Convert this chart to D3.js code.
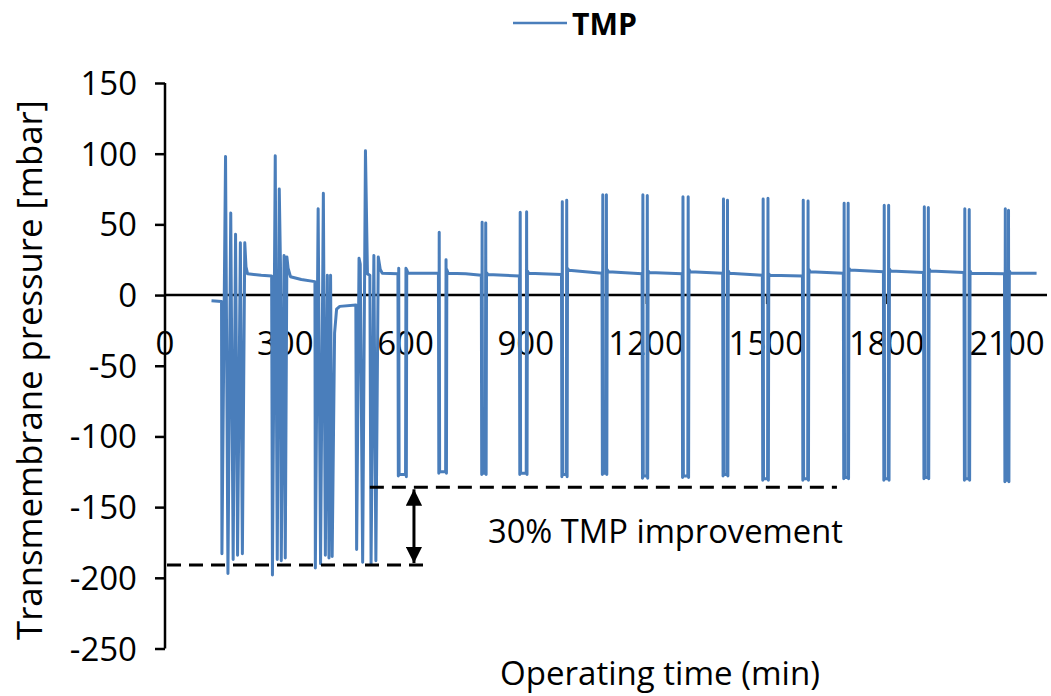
<!DOCTYPE html>
<html>
<head>
<meta charset="utf-8">
<script src="https://cdn.jsdelivr.net/npm/d3@7"></script>
<style>
  body { margin: 0; background: #fff; }
  text { font-family: "Open Sans", sans-serif; fill: #000; }
</style>
</head>
<body>
<svg id="chart" width="1051" height="696"></svg>
<script>
// operating time (min) and transmembrane pressure (mbar)
var minutes = [
  116, 141,
  142, 151, 157, 164, 170, 176, 181, 188, 193, 199, 202, 206, 240, 266,
  268, 275, 280, 285, 288, 290, 297, 300, 304, 307, 313, 340, 374,
  375, 382, 388, 395, 400, 405, 409, 413, 417, 423, 428, 436, 476,
  478, 484, 487, 493, 500, 505, 511, 514, 521, 526, 532, 537, 542, 581,
  582, 583, 584, 600, 601, 602, 603, 606, 682,
  683, 684, 685, 700, 701, 702, 703, 706, 750, 789,
  790, 791, 792, 799, 800, 801, 802, 805, 884,
  885, 886, 887, 901, 902, 903, 904, 907, 989,
  990, 991, 992, 1001, 1002, 1003, 1004, 1007, 1090,
  1091, 1092, 1093, 1100, 1101, 1102, 1103, 1106, 1190,
  1191, 1192, 1193, 1202, 1203, 1204, 1205, 1208, 1290,
  1291, 1292, 1293, 1304, 1305, 1306, 1307, 1310, 1391,
  1392, 1393, 1394, 1402, 1403, 1404, 1405, 1408, 1490,
  1491, 1492, 1493, 1503, 1504, 1505, 1506, 1509, 1590,
  1591, 1592, 1593, 1603, 1604, 1605, 1606, 1609, 1692,
  1693, 1694, 1695, 1703, 1704, 1705, 1706, 1709, 1792,
  1793, 1794, 1795, 1804, 1805, 1806, 1807, 1810, 1892,
  1893, 1894, 1895, 1903, 1904, 1905, 1906, 1909, 1993,
  1994, 1995, 1996, 2005, 2006, 2007, 2008, 2011, 2094,
  2095, 2096, 2097, 2103, 2104, 2105, 2106, 2109, 2174
];
var tmp = [
  -4, -4.5,
  -183, 98, -197, 58, -187, 43, -184, 37, -183, 37, 20, 15, 14, 13.4,
  -198, 98.5, -187, 75, 22, -188, 28, -186, 27, 19, 13, 11, 9.5,
  -193, 61, -190, 72, -184, 14, -186, 14, -185, -27, -10, -8, -7,
  -180, 26, 22, -189, 102, 15, 14, -190, 28, -188, 27, 18, 15.5, 15,
  -128, 19, -127, -127, 19, -128.5, 18, 15.5, 15.5,
  -126, 44.5, -125, -125, 25, -126, 18, 15.5, 15, 14,
  -127, 51.5, -126, -126, 51, -127, 16, 14.5, 13.5,
  -127, 58.5, -126, -126, 59, -127, 17, 15.5, 14.5,
  -128.5, 66, -127, -127, 67, -128.5, 19, 17.5, 15.5,
  -127, 71, -126, -126, 71, -127, 18, 16.5, 15,
  -129.5, 71, -128, -128, 70.5, -129.5, 17, 16, 15,
  -129, 69.5, -128, -128, 69.5, -129, 18, 16.5, 15.5,
  -128, 68, -127, -127, 67, -128, 17, 15.5, 14,
  -131, 68, -130, -130, 68.5, -131, 15, 14, 13.5,
  -131, 67, -130, -130, 66.5, -131, 18, 16.5, 15.5,
  -130, 65, -129, -129, 65, -130, 19, 17.7, 16.5,
  -131, 63.5, -130, -130, 63.5, -131, 18.5, 17, 16,
  -130, 62.5, -129, -129, 62, -130, 18.5, 17, 16,
  -131, 61, -130, -130, 60.5, -131, 17, 15.5, 15,
  -132, 61, -131, -131, 60, -132, 17, 15.5, 15.5
];

var xTicks = [0, 300, 600, 900, 1200, 1500, 1800, 2100];
var yTicks = [150, 100, 50, 0, -50, -100, -150, -200, -250];

// the two reference levels of the annotation
var beforeSpan = [5, 648], beforeLevel = -191;
var afterSpan = [511, 1676], afterLevel = -136;
var arrowAt = 621;

var blue = '#4a7ebb';
var svg = d3.select('#chart');

var x = d3.scaleLinear().domain([0, 2200]).range([165, 1047]);
var y = d3.scaleLinear().domain([-250, 150]).range([648.5, 83]);

function fit(sel, target) {
    var w = sel.node().getComputedTextLength();
    var fs = parseFloat(sel.attr('font-size'));
    sel.attr('font-size', fs * target / w);
}

// y axis
var yAxis = svg.append('g')
    .attr('transform', 'translate(' + x(0) + ',0)')
    .call(d3.axisLeft(y).tickValues(yTicks).tickSize(10).tickFormat(''));
yAxis.select('.domain').attr('stroke', '#000').attr('stroke-width', 2.5).attr('d', 'M0,' + y(150) + 'V' + y(-250));
yAxis.selectAll('.tick line').attr('stroke', '#000').attr('stroke-width', 2.5);

svg.append('g').selectAll('text')
    .data(yTicks).enter().append('text')
    .attr('x', 137)
    .attr('y', function(d) { return y(d) + 12; })
    .attr('text-anchor', 'end')
    .attr('font-size', 33)
    .text(function(d) { return d; });

// x axis on the zero line
var xAxis = svg.append('g')
    .attr('transform', 'translate(0,' + y(0) + ')')
    .call(d3.axisBottom(x).tickValues(xTicks.slice(1)).tickSize(9).tickFormat(''));
xAxis.select('.domain').attr('stroke', '#000').attr('stroke-width', 2.5).attr('d', 'M' + x(0) + ',0H' + x(2200));
xAxis.selectAll('.tick line').attr('stroke', '#000').attr('stroke-width', 2);

svg.append('g').selectAll('text')
    .data(xTicks).enter().append('text')
    .attr('x', function(d) { return x(d); })
    .attr('y', 355)
    .attr('text-anchor', 'middle')
    .attr('font-size', 33)
    .text(function(d) { return d; });

// TMP series
var line = d3.line()
    .x(function(d) { return x(d); })
    .y(function(d, i) { return y(tmp[i]); });

svg.append('path')
    .datum(minutes)
    .attr('d', line)
    .attr('fill', 'none')
    .attr('stroke', blue)
    .attr('stroke-width', 3)
    .attr('stroke-linejoin', 'round');

// annotation: dashed levels and double arrow
svg.append('line')
    .attr('x1', x(beforeSpan[0])).attr('x2', x(beforeSpan[1]))
    .attr('y1', y(beforeLevel)).attr('y2', y(beforeLevel))
    .attr('stroke', '#000').attr('stroke-width', 3).attr('stroke-dasharray', '14,8');
svg.append('line')
    .attr('x1', x(afterSpan[0])).attr('x2', x(afterSpan[1]))
    .attr('y1', y(afterLevel)).attr('y2', y(afterLevel))
    .attr('stroke', '#000').attr('stroke-width', 3).attr('stroke-dasharray', '14,8');

var defs = svg.append('defs');
defs.append('marker')
    .attr('id', 'head')
    .attr('viewBox', '0 0 10 10')
    .attr('refX', 10).attr('refY', 5)
    .attr('markerWidth', 5.5).attr('markerHeight', 5.5)
    .attr('markerUnits', 'strokeWidth')
    .attr('orient', 'auto-start-reverse')
    .append('path').attr('d', 'M0,0L10,5L0,10Z').attr('fill', '#000');

svg.append('line')
    .attr('x1', x(arrowAt)).attr('x2', x(arrowAt))
    .attr('y1', y(afterLevel) + 2).attr('y2', y(beforeLevel) - 2)
    .attr('stroke', '#000').attr('stroke-width', 3)
    .attr('marker-start', 'url(#head)')
    .attr('marker-end', 'url(#head)');

var note = svg.append('text')
    .attr('x', 488).attr('y', 543)
    .attr('font-size', 30)
    .text('30% TMP improvement');
fit(note, 355);

// axis titles
var yTitle = svg.append('text')
    .attr('transform', 'translate(42,370) rotate(-90)')
    .attr('text-anchor', 'middle')
    .attr('font-size', 32)
    .text('Transmembrane pressure [mbar]');
fit(yTitle, 540);

var xTitle = svg.append('text')
    .attr('x', 660).attr('y', 685)
    .attr('text-anchor', 'middle')
    .attr('font-size', 32)
    .text('Operating time (min)');
fit(xTitle, 320);

// legend
svg.append('line')
    .attr('x1', 513).attr('x2', 567).attr('y1', 23).attr('y2', 23)
    .attr('stroke', blue).attr('stroke-width', 2.5);
var leg = svg.append('text')
    .attr('x', 572).attr('y', 35)
    .attr('font-size', 31)
    .attr('font-weight', 'bold')
    .text('TMP');
fit(leg, 65);
</script>
</body>
</html>
